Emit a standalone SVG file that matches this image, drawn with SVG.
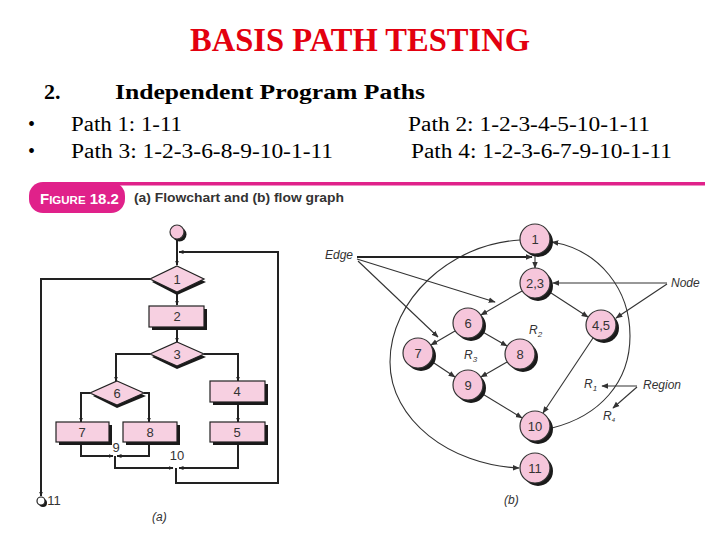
<svg xmlns="http://www.w3.org/2000/svg" width="720" height="540" viewBox="0 0 720 540">
<defs>
<style>
.ln{fill:none;stroke:#222;stroke-width:2}
.gl{fill:none;stroke:#333;stroke-width:1.1}
.box{fill:#f7d0e1;stroke:#222;stroke-width:1.2}
.sh{fill:#1a1a1a}
.nc{fill:#f6c6db;stroke:#333;stroke-width:1.2}
.fl{font-family:"Liberation Sans","DejaVu Sans",sans-serif;font-size:13px;fill:#333;text-anchor:middle}
.it{font-family:"Liberation Sans","DejaVu Sans",sans-serif;font-size:12px;font-style:italic;fill:#333}
.hd{font-family:"Liberation Serif","DejaVu Serif",serif;fill:#000}
</style>
<marker id="a" viewBox="0 0 10 10" refX="9" refY="5" markerWidth="5" markerHeight="5" orient="auto" markerUnits="userSpaceOnUse"><path d="M0,1 L10,5 L0,9 z" fill="#222"/></marker>
<marker id="g" viewBox="0 0 10 10" refX="9" refY="5" markerWidth="7" markerHeight="7" orient="auto" markerUnits="userSpaceOnUse"><path d="M0,1 L10,5 L0,9 z" fill="#333"/></marker>
</defs>
<rect width="720" height="540" fill="#fff"/>

<g id="header">
<text x="360" y="51" text-anchor="middle" font-family="Liberation Serif,serif" font-weight="bold" font-size="34" fill="#e3000f" textLength="340" lengthAdjust="spacingAndGlyphs">BASIS PATH TESTING</text>
<text class="hd" x="44" y="99" font-weight="bold" font-size="22">2.</text>
<text class="hd" x="115" y="99" font-weight="bold" font-size="22" textLength="310" lengthAdjust="spacingAndGlyphs">Independent Program Paths</text>
<text class="hd" x="28" y="131" font-size="20">•</text>
<text class="hd" x="71" y="131" font-size="20" textLength="111" lengthAdjust="spacingAndGlyphs">Path 1: 1-11</text>
<text class="hd" x="408" y="131" font-size="20" textLength="242" lengthAdjust="spacingAndGlyphs">Path 2: 1-2-3-4-5-10-1-11</text>
<text class="hd" x="28" y="158" font-size="20">•</text>
<text class="hd" x="71" y="158" font-size="20" textLength="262" lengthAdjust="spacingAndGlyphs">Path 3: 1-2-3-6-8-9-10-1-11</text>
<text class="hd" x="411" y="158" font-size="20" textLength="261" lengthAdjust="spacingAndGlyphs">Path 4: 1-2-3-6-7-9-10-1-11</text>
</g>

<g id="figure-caption">
<rect x="100" y="182" width="605" height="3.5" fill="#e0218a"/>
<rect x="29" y="182" width="96" height="31" rx="14" fill="#e0218a"/>
<text x="40" y="204" font-family="Liberation Sans,sans-serif" font-weight="bold" fill="#fff" font-size="15"><tspan>F</tspan><tspan font-size="11.5">IGURE</tspan><tspan> 18.2</tspan></text>
<text x="134" y="202" font-family="Liberation Sans,sans-serif" font-weight="bold" font-size="12" fill="#333" textLength="210" lengthAdjust="spacingAndGlyphs">(a) Flowchart and (b) flow graph</text>
</g>

<g id="flowchart-connectors">
<path class="ln" d="M177,240 V265" marker-end="url(#a)"/>
<path class="ln" d="M176,468 V483 H278 V252 H179" marker-end="url(#a)"/>
<path class="ln" d="M177,292 V305" marker-end="url(#a)"/>
<path class="ln" d="M150,279 H41 V496" marker-end="url(#a)"/>
<path class="ln" d="M177,327 V342" marker-end="url(#a)"/>
<path class="ln" d="M150,354 H116 V381" marker-end="url(#a)"/>
<path class="ln" d="M204,354 H238 V381" marker-end="url(#a)"/>
<path class="ln" d="M90,393 H81 V422" marker-end="url(#a)"/>
<path class="ln" d="M144,393 H149 V422" marker-end="url(#a)"/>
<path class="ln" d="M238,402 V422" marker-end="url(#a)"/>
<path class="ln" d="M81,442 V456 H113" marker-end="url(#a)"/>
<path class="ln" d="M149,442 V456 H117" marker-end="url(#a)"/>
<path class="ln" d="M115,456 V468 H173" marker-end="url(#a)"/>
<path class="ln" d="M238,442 V468 H179" marker-end="url(#a)"/>
</g>

<g id="fc-start"><circle class="sh" cx="179.5" cy="234.5" r="7"/><circle class="nc" cx="177" cy="232" r="7"/></g>
<g id="fc-1"><polygon class="sh" points="177,269 206,282 177,295 152,282"/><polygon class="box" points="177,266 204,279 177,292 150,279"/><text class="fl" x="177" y="284">1</text></g>
<g id="fc-2"><rect class="sh" x="152" y="309" width="55" height="21"/><rect class="box" x="149" y="306" width="55" height="21"/><text class="fl" x="177" y="321">2</text></g>
<g id="fc-3"><polygon class="sh" points="177,345 206,357 177,369 152,357"/><polygon class="box" points="177,342 204,354 177,366 150,354"/><text class="fl" x="177" y="359">3</text></g>
<g id="fc-6"><polygon class="sh" points="117,384 146,396 117,408 93,396"/><polygon class="box" points="117,381 144,393 117,405 90,393"/><text class="fl" x="117" y="398">6</text></g>
<g id="fc-4"><rect class="sh" x="213" y="384" width="55" height="21"/><rect class="box" x="210" y="381" width="55" height="21"/><text class="fl" x="237" y="396">4</text></g>
<g id="fc-7"><rect class="sh" x="59" y="425" width="53" height="20"/><rect class="box" x="56" y="422" width="53" height="20"/><text class="fl" x="82" y="437">7</text></g>
<g id="fc-8"><rect class="sh" x="126" y="425" width="54" height="20"/><rect class="box" x="123" y="422" width="54" height="20"/><text class="fl" x="150" y="437">8</text></g>
<g id="fc-5"><rect class="sh" x="213" y="425" width="55" height="20"/><rect class="box" x="210" y="422" width="55" height="20"/><text class="fl" x="237" y="437">5</text></g>
<g id="fc-9"><text class="fl" x="116" y="452">9</text></g>
<g id="fc-10"><text class="fl" x="177" y="460">10</text></g>
<g id="fc-11"><circle class="sh" cx="43" cy="503" r="4"/><circle fill="#fff" stroke="#222" stroke-width="1.2" cx="41" cy="501" r="4"/><text class="fl" x="54" y="505">11</text></g>
<text class="it" x="152" y="521">(a)</text>

<g id="graph-connectors">
<path class="gl" d="M535,254 L535,268" marker-end="url(#g)"/>
<path class="gl" d="M522,291 L481,315" marker-end="url(#g)"/>
<path class="gl" d="M548,291 L588,317" marker-end="url(#g)"/>
<path class="gl" d="M455,331 L431,345" marker-end="url(#g)"/>
<path class="gl" d="M481,331 L507,346" marker-end="url(#g)"/>
<path class="gl" d="M431,361 L455,377" marker-end="url(#g)"/>
<path class="gl" d="M507,362 L481,377" marker-end="url(#g)"/>
<path class="gl" d="M481,393 L522,418" marker-end="url(#g)"/>
<path class="gl" d="M593,338 L543,413" marker-end="url(#g)"/>
<path class="gl" d="M552,428 C600,416 630,382 630,336 C630,290 600,250 552,242" marker-end="url(#g)"/>
<path class="gl" d="M520,240 C450,244 390,300 390,362 C390,420 450,465 519,468" marker-end="url(#g)"/>
<path fill="none" stroke="#222" stroke-width="2" d="M357,257 L532,257" marker-end="url(#g)"/>
<path class="gl" d="M357,259 L495,302" marker-end="url(#g)"/>
<path class="gl" d="M358,261 L438,337" marker-end="url(#g)"/>
<path class="gl" d="M667,283 L553,283" marker-end="url(#g)"/>
<path class="gl" d="M667,284 L616,318" marker-end="url(#g)"/>
<path class="gl" d="M637,386 L602,386" marker-end="url(#g)"/>
<path class="gl" d="M637,387 L613,408" marker-end="url(#g)"/>
</g>

<g id="n1"><circle class="sh" cx="538" cy="242" r="15"/><circle class="nc" cx="535" cy="239" r="15"/><text class="fl" x="535" y="244">1</text></g>
<g id="n23"><circle class="sh" cx="538" cy="286" r="15"/><circle class="nc" cx="535" cy="283" r="15"/><text class="fl" x="535" y="288">2,3</text></g>
<g id="n6"><circle class="sh" cx="471" cy="326" r="15"/><circle class="nc" cx="468" cy="323" r="15"/><text class="fl" x="468" y="328">6</text></g>
<g id="n45"><circle class="sh" cx="604" cy="328" r="15"/><circle class="nc" cx="601" cy="325" r="15"/><text class="fl" x="601" y="330">4,5</text></g>
<g id="n7"><circle class="sh" cx="421" cy="356" r="15"/><circle class="nc" cx="418" cy="353" r="15"/><text class="fl" x="418" y="358">7</text></g>
<g id="n8"><circle class="sh" cx="523" cy="357" r="15"/><circle class="nc" cx="520" cy="354" r="15"/><text class="fl" x="520" y="359">8</text></g>
<g id="n9"><circle class="sh" cx="471" cy="388" r="15"/><circle class="nc" cx="468" cy="385" r="15"/><text class="fl" x="468" y="390">9</text></g>
<g id="n10"><circle class="sh" cx="538" cy="429" r="15"/><circle class="nc" cx="535" cy="426" r="15"/><text class="fl" x="535" y="431">10</text></g>
<g id="n11"><circle class="sh" cx="538" cy="471" r="15"/><circle class="nc" cx="535" cy="468" r="15"/><text class="fl" x="535" y="473">11</text></g>

<g id="graph-labels">
<text class="it" x="325" y="259">Edge</text>
<text class="it" x="671" y="287">Node</text>
<text class="it" x="643" y="389">Region</text>
<text class="it" x="529" y="334">R<tspan font-size="8" dy="3">2</tspan></text>
<text class="it" x="464" y="359">R<tspan font-size="8" dy="3">3</tspan></text>
<text class="it" x="584" y="388">R<tspan font-size="8" dy="3">1</tspan></text>
<text class="it" x="603" y="420" font-size="9">R<tspan font-size="6" dy="2">4</tspan></text>
<text class="it" x="504" y="504">(b)</text>
</g>
</svg>
